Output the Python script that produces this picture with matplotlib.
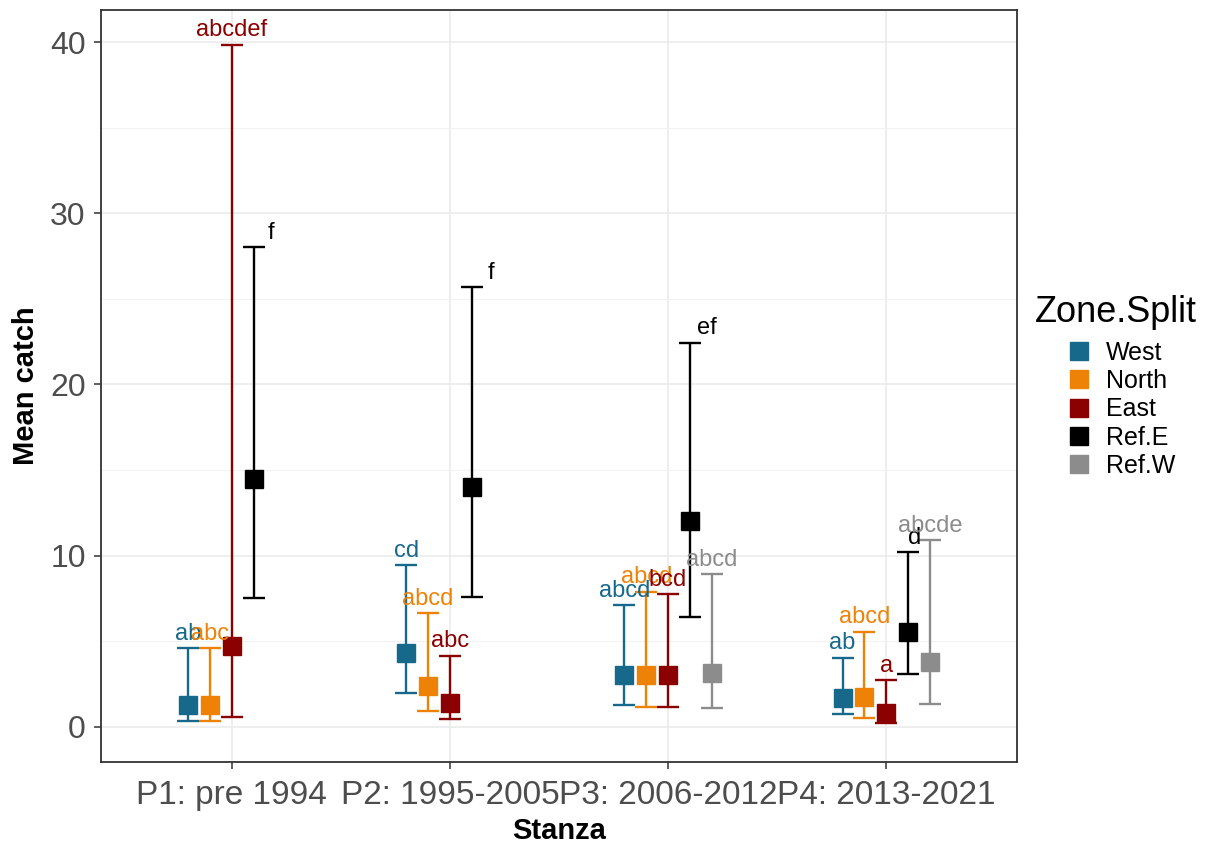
import numpy as np
import matplotlib.pyplot as plt
from matplotlib.lines import Line2D

plt.rcParams['font.family'] = ['Liberation Sans', 'DejaVu Sans']

# stanzas on the x axis and zones within each stanza
stanzas = ['P1: pre 1994', 'P2: 1995-2005', 'P3: 2006-2012', 'P4: 2013-2021']
zones = ['West', 'North', 'East', 'Ref.E', 'Ref.W']
zone_colors = ['#17698C', '#EE8207', '#8B0000', '#000000', '#8C8C8C']

# mean catch and interval bounds per zone (one value per stanza, nan = no data)
mean_west = [1.28, 4.30, 3.04, 1.67]
lo_west = [0.37, 2.00, 1.28, 0.76]
hi_west = [4.60, 9.45, 7.12, 4.05]

mean_north = [1.30, 2.40, 3.04, 1.73]
lo_north = [0.37, 0.90, 1.19, 0.51]
hi_north = [4.60, 6.64, 7.90, 5.57]

mean_east = [4.75, 1.42, 3.04, 0.80]
lo_east = [0.60, 0.47, 1.19, 0.25]
hi_east = [39.85, 4.16, 7.75, 2.74]

mean_refe = [14.5, 14.0, 12.0, 5.53]
lo_refe = [7.5, 7.6, 6.44, 3.08]
hi_refe = [28.0, 25.7, 22.44, 10.2]

mean_refw = [np.nan, np.nan, 3.17, 3.78]
lo_refw = [np.nan, np.nan, 1.09, 1.34]
hi_refw = [np.nan, np.nan, 8.93, 10.92]

# compact letter display from the post-hoc comparisons
letters_west = ['ab', 'cd', 'abcd', 'ab']
letters_north = ['abc', 'abcd', 'abcd', 'abcd']
letters_east = ['abcdef', 'abc', 'bcd', 'a']
letters_refe = ['f', 'f', 'ef', 'd']
letters_refw = ['', '', 'abcd', 'abcde']

means = [mean_west, mean_north, mean_east, mean_refe, mean_refw]
lows = [lo_west, lo_north, lo_east, lo_refe, lo_refw]
highs = [hi_west, hi_north, hi_east, hi_refe, hi_refw]
letters = [letters_west, letters_north, letters_east, letters_refe, letters_refw]

fig = plt.figure(figsize=(12.22, 8.46), dpi=100)
ax = fig.add_axes([101 / 1222, 84 / 846, 916 / 1222, 752 / 846])

dodge = 0.1
x_base = np.arange(len(stanzas))
# Ref.E letters were nudged right of the bar
label_dx = {'Ref.E': [0.08, 0.09, 0.08, 0.03]}

for j, zone in enumerate(zones):
    x = x_base + (j - 2) * dodge
    m = np.array(means[j], dtype=float)
    lo = np.array(lows[j], dtype=float)
    hi = np.array(highs[j], dtype=float)
    ok = ~np.isnan(m)
    ax.errorbar(x[ok], m[ok], yerr=[m[ok] - lo[ok], hi[ok] - m[ok]], fmt='none',
                ecolor=zone_colors[j], elinewidth=1.7, capsize=8, capthick=1.7, zorder=3)
    ax.plot(x[ok], m[ok], 's', color=zone_colors[j], markersize=13, zorder=4)
    dx = label_dx.get(zone, [0] * len(stanzas))
    for i in np.where(ok)[0]:
        ax.annotate(letters[j][i], (x[i] + dx[i], hi[i]), xytext=(0, 6),
                    textcoords='offset points', ha='center', va='baseline',
                    fontsize=17, color=zone_colors[j], zorder=5)

ax.set_xlim(-0.6, len(stanzas) - 0.4)
ax.set_ylim(-2.05, 41.87)
ax.set_xticks(x_base)
ax.set_xticklabels(stanzas)
ax.set_yticks([0, 10, 20, 30, 40])
ax.set_yticks([5, 15, 25, 35], minor=True)

ax.grid(which='major', color='#EBEBEB', linewidth=1.2, zorder=0)
ax.grid(which='minor', axis='y', color='#F2F2F2', linewidth=0.8, zorder=0)
ax.set_axisbelow(True)
for s in ax.spines.values():
    s.set_color('#333333')
    s.set_linewidth(1.3)
ax.tick_params(axis='both', which='major', length=5, width=1.1, color='#333333',
               labelsize=23, labelcolor='#4D4D4D')
ax.tick_params(axis='x', which='major', pad=8, labelsize=24)
ax.tick_params(axis='y', which='major', pad=6)
ax.tick_params(axis='y', which='minor', length=0)

ax.set_xlabel('Stanza', fontsize=21, fontweight='bold', labelpad=4)
ax.set_ylabel('Mean catch', fontsize=21, fontweight='bold', labelpad=7)

# legend: title drawn separately so the gap below it can be set
fig.text(1035 / 1222, 1 - 313 / 846, 'Zone.Split', fontsize=26, va='center', ha='left')
handles = [Line2D([], [], marker='s', linestyle='none', color=c, markersize=13)
           for c in zone_colors]
fig.legend(handles, zones, loc='upper left',
           bbox_to_anchor=(1066 / 1222, 1 - 341 / 846), frameon=False,
           fontsize=18, handlelength=1.0, handletextpad=0.6,
           labelspacing=0.17, borderpad=0, borderaxespad=0)

fig.savefig('out.png', dpi=100)
